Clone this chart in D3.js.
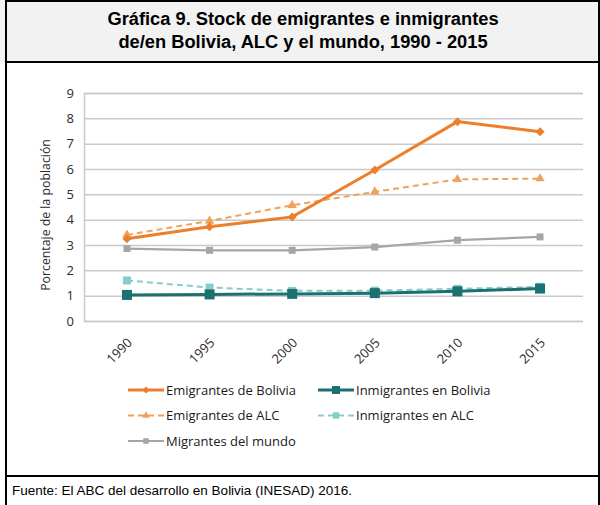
<!DOCTYPE html>
<html><head><meta charset="utf-8">
<script src="https://cdn.jsdelivr.net/npm/d3@7"></script>
<style>body{margin:0;background:#fff}svg{display:block}</style>
</head><body>
<svg id="c" width="600" height="505"></svg>
<script>
const years = ["1990","1995","2000","2005","2010","2015"];
const emigBolivia = [3.25, 3.72, 4.11, 5.96, 7.87, 7.47];
const emigALC = [3.4, 3.95, 4.57, 5.1, 5.59, 5.62];
const migMundo = [2.86, 2.79, 2.79, 2.92, 3.19, 3.32];
const inmigBolivia = [1.03, 1.05, 1.07, 1.1, 1.17, 1.28];
const inmigALC = [1.6, 1.32, 1.19, 1.2, 1.27, 1.35];
const yTicks = [0,1,2,3,4,5,6,7,8,9];
const seriesNames = ["Emigrantes de Bolivia","Inmigrantes en Bolivia","Emigrantes de ALC","Inmigrantes en ALC","Migrantes del mundo"];

const series = [
  {name: seriesNames[4], values: migMundo, color:"#a6a6a6", dash:null, shape:"square", size:7, w:2.2},
  {name: seriesNames[3], values: inmigALC, color:"#86cccc", dash:"6,4", shape:"square", size:8, w:2},
  {name: seriesNames[2], values: emigALC, color:"#f0a25a", dash:"6,4", shape:"triangle", size:8, w:2},
  {name: seriesNames[1], values: inmigBolivia, color:"#1b716f", dash:null, shape:"square", size:10, w:3},
  {name: seriesNames[0], values: emigBolivia, color:"#ec7f2c", dash:null, shape:"diamond", size:9, w:3}
];

const svg = d3.select("#c");
svg.append("rect").attr("x",0).attr("y",0).attr("width",600).attr("height",62).attr("fill","#f2f2f2");
svg.append("line").attr("x1",6).attr("x2",6).attr("y1",0).attr("y2",505).attr("stroke","#000").attr("stroke-width",2);
svg.append("line").attr("x1",599).attr("x2",599).attr("y1",0).attr("y2",505).attr("stroke","#000").attr("stroke-width",2);
svg.append("line").attr("x1",6).attr("x2",600).attr("y1",1).attr("y2",1).attr("stroke","#000").attr("stroke-width",2);
svg.append("line").attr("x1",6).attr("x2",600).attr("y1",62).attr("y2",62).attr("stroke","#000").attr("stroke-width",2);
svg.append("line").attr("x1",6).attr("x2",600).attr("y1",476).attr("y2",476).attr("stroke","#000").attr("stroke-width",2);

svg.append("text").attr("x",303).attr("y",25).attr("text-anchor","middle")
  .attr("font-family","Liberation Sans, Arial").attr("font-weight","bold").attr("font-size",18.3)
  .text("Gráfica 9. Stock de emigrantes e inmigrantes");
svg.append("text").attr("x",303).attr("y",48).attr("text-anchor","middle")
  .attr("font-family","Liberation Sans, Arial").attr("font-weight","bold").attr("font-size",18.3)
  .text("de/en Bolivia, ALC y el mundo, 1990 - 2015");
svg.append("text").attr("x",12).attr("y",495)
  .attr("font-family","Liberation Sans, Arial").attr("font-size",13.5)
  .text("Fuente: El ABC del desarrollo en Bolivia (INESAD) 2016.");

const pLeft = 84, pRight = 583, pTop = 93, pBottom = 321;
const x = d3.scalePoint().domain(years).range([pLeft, pRight]).padding(0.52);
const y = d3.scaleLinear().domain([0,9]).range([pBottom, pTop]);

const font = "Open Sans, Noto Sans, sans-serif";
const gAxis = svg.append("g").attr("transform",`translate(${pLeft},0)`)
  .call(d3.axisLeft(y).tickValues(yTicks).tickSize(-(pRight-pLeft)).tickPadding(10));
gAxis.select(".domain").attr("stroke","#c9c9c9").attr("stroke-width",1.5);
gAxis.selectAll(".tick line").attr("stroke","#c9c9c9").attr("stroke-width",1.5);
gAxis.selectAll(".tick text").attr("font-family",font).attr("font-size",13).attr("fill","#2a2a2a");

const gx = svg.append("g").attr("transform",`translate(0,${pBottom})`)
  .call(d3.axisBottom(x).tickSize(0).tickPadding(0));
gx.select(".domain").remove();
gx.selectAll(".tick text").attr("font-family",font).attr("font-size",13).attr("fill","#2a2a2a")
  .attr("text-anchor","middle").attr("dy",0)
  .attr("transform","translate(-5,33) rotate(-45)");

svg.append("text").attr("transform","translate(50,215) rotate(-90)").attr("text-anchor","middle")
  .attr("font-family",font).attr("font-size",12.3).attr("fill","#2a2a2a")
  .text("Porcentaje de la población");

function marker(sel, shape, size, color){
  let p;
  if(shape==="square") p = d3.symbol(d3.symbolSquare, size*size)();
  else if(shape==="triangle") p = d3.symbol(d3.symbolTriangle, size*size*0.6)();
  else p = d3.symbol(d3.symbolSquare, size*size*0.5)();
  const s = sel.append("path").attr("d",p).attr("fill",color);
  if(shape==="diamond") s.attr("transform","rotate(45)");
  return s;
}

const line = d3.line().x((d,i)=>x(years[i])).y(d=>y(d));
series.forEach(s=>{
  svg.append("path").datum(s.values).attr("d",line).attr("fill","none")
    .attr("stroke",s.color).attr("stroke-width",s.w).attr("stroke-dasharray",s.dash);
  s.values.forEach((v,i)=>{
    const g = svg.append("g").attr("transform",`translate(${x(years[i])},${y(v)})`);
    marker(g, s.shape, s.size, s.color);
  });
});

const legendPos = [
  [0, 128, 390],[1, 318, 390],[2, 128, 415.5],[3, 318, 415.5],[4, 128, 441]
];
const byName = {};
series.forEach(s=>byName[s.name]=s);
legendPos.forEach(([k,lx,ly])=>{
  const s = byName[seriesNames[k]];
  svg.append("line").attr("x1",lx).attr("x2",lx+36).attr("y1",ly).attr("y2",ly)
    .attr("stroke",s.color).attr("stroke-width",s.w).attr("stroke-dasharray",s.dash);
  const g = svg.append("g").attr("transform",`translate(${lx+18},${ly})`);
  marker(g, s.shape, s.size*0.8, s.color);
  svg.append("text").attr("x",lx+38).attr("y",ly+4.8).attr("font-family",font)
    .attr("font-size",13).attr("fill","#1a1a1a").text(s.name);
});
</script>
</body></html>
